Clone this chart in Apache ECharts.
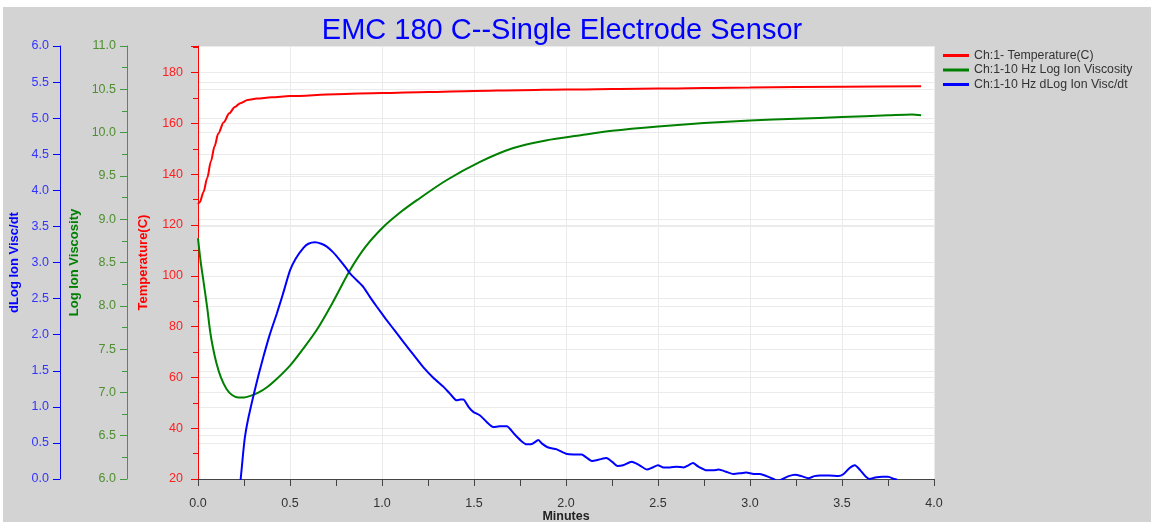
<!DOCTYPE html>
<html>
<head>
<meta charset="utf-8">
<script src="https://cdn.jsdelivr.net/npm/echarts@6/dist/echarts.min.js"></script>
<style>
html,body{margin:0;padding:0;background:#fff;}
#bg{position:absolute;left:3px;top:7px;width:1148px;height:515px;background:#d3d3d3;}
#chart{position:absolute;left:0;top:0;width:1151px;height:522px;}
</style>
</head>
<body>
<div id="bg"></div>
<div id="chart"></div>
<script>
// ---- data ----
const titleText = 'EMC 180 C--Single Electrode Sensor';
const seriesNames = ['Ch:1- Temperature(C)', 'Ch:1-10 Hz Log Ion Viscosity', 'Ch:1-10 Hz dLog Ion Visc/dt'];

const tempX = [0.00,0.01,0.03,0.05,0.07,0.09,0.11,0.14,0.17,0.20,0.23,0.27,0.32,0.40,0.50,0.75,1.00,1.25,1.50,1.75,2.00,2.50,3.00,3.50,3.93];
const tempY = [128.3,129.0,133.0,138.5,145.0,151.0,156.0,160.5,164.0,166.5,168.0,169.2,169.8,170.3,170.8,171.5,172.0,172.4,172.8,173.1,173.4,173.8,174.2,174.5,174.7];

const viscX = [0.00,0.015,0.03,0.05,0.065,0.08,0.10,0.125,0.155,0.185,0.22,0.25,0.285,0.33,0.375,0.42,0.50,0.57,0.645,0.73,0.826,0.91,1.007,1.10,1.19,1.35,1.53,1.71,1.89,2.08,2.25,2.50,2.75,3.00,3.25,3.50,3.75,3.88,3.93];
const viscY = [8.78,8.50,8.28,7.98,7.72,7.53,7.34,7.17,7.04,6.97,6.94,6.94,6.96,7.00,7.06,7.14,7.31,7.50,7.72,8.03,8.41,8.68,8.91,9.08,9.22,9.45,9.66,9.82,9.91,9.97,10.02,10.07,10.11,10.14,10.16,10.18,10.20,10.21,10.20];

const dviscX = [0.228,0.232,0.245,0.255,0.27,0.30,0.33,0.355,0.39,0.428,0.46,0.50,0.53,0.572,0.60,0.636,0.67,0.70,0.735,0.772,0.80,0.826,0.86,0.899,0.935,0.971,1.02,1.08,1.15,1.224,1.28,1.333,1.37,1.406,1.425,1.442,1.47,1.496,1.533,1.565,1.605,1.64,1.678,1.72,1.76,1.786,1.81,1.85,1.87,1.90,1.95,2.00,2.04,2.085,2.11,2.14,2.18,2.22,2.25,2.28,2.31,2.357,2.40,2.44,2.47,2.50,2.53,2.565,2.60,2.64,2.665,2.69,2.72,2.765,2.80,2.83,2.87,2.91,2.95,2.98,3.02,3.054,3.09,3.127,3.15,3.17,3.21,3.245,3.28,3.317,3.35,3.38,3.43,3.48,3.507,3.54,3.57,3.60,3.63,3.65,3.68,3.72,3.75,3.785,3.80];
const dviscY = [-0.05,0.0,0.35,0.58,0.80,1.14,1.45,1.69,2.00,2.29,2.55,2.89,3.05,3.20,3.26,3.28,3.26,3.22,3.14,3.03,2.94,2.85,2.76,2.66,2.52,2.39,2.22,2.02,1.79,1.55,1.40,1.28,1.18,1.09,1.10,1.10,1.00,0.93,0.88,0.80,0.72,0.73,0.73,0.62,0.52,0.48,0.48,0.54,0.49,0.44,0.41,0.35,0.34,0.34,0.30,0.25,0.27,0.29,0.24,0.18,0.19,0.24,0.19,0.13,0.16,0.19,0.16,0.16,0.17,0.16,0.19,0.22,0.17,0.12,0.12,0.13,0.10,0.07,0.08,0.09,0.07,0.07,0.04,0.0,-0.03,-0.01,0.04,0.06,0.04,0.01,0.04,0.05,0.05,0.04,0.065,0.15,0.19,0.12,0.03,0.0,0.02,0.03,0.03,0.0,-0.01];

const xTickMin = 0, xTickMax = 4, xTickStep = 0.5;
const tempMin = 20, tempMax = 190.5, tempStep = 20;
const viscMin = 6, viscMax = 11, viscStep = 0.5;
const dviscMin = 0, dviscMax = 6, dviscStep = 0.5;

// ---- build ----
const zip = (xs, ys) => xs.map((x, i) => [x, ys[i]]);
const FONT = 'Liberation Sans, Arial, sans-serif';
const GRIDC = '#ebebeb';

function yAxisDef(o) {
  return {
    type: 'value', position: 'left', offset: o.offset,
    min: o.min, max: o.max, interval: o.step,
    name: o.name, nameLocation: 'middle', nameGap: o.nameGap, nameRotate: 90,
    nameTextStyle: { color: o.nameColor, fontWeight: 'bold', fontSize: 13, fontFamily: FONT },
    axisLine: { show: true, lineStyle: { color: o.lineColor, width: 1 } },
    axisTick: { show: true, length: 7, lineStyle: { color: o.lineColor } },
    minorTick: { show: o.minor, splitNumber: 2, length: 5, lineStyle: { color: o.lineColor } },
    axisLabel: { color: o.labelColor, fontSize: 12.5, fontFamily: FONT, margin: 11, showMaxLabel: o.showMax,
      formatter: v => o.fmt(v) },
    splitLine: { show: true, lineStyle: { color: GRIDC, width: 1 } },
    minorSplitLine: { show: false }
  };
}

const chart = echarts.init(document.getElementById('chart'));
chart.setOption({
  animation: false,
  backgroundColor: 'transparent',
  title: {
    text: titleText, left: 557, top: 11, textAlign: 'center',
    textStyle: { color: '#0000ff', fontSize: 29, fontWeight: 'normal', fontFamily: FONT }
  },
  legend: {
    orient: 'vertical', left: 938, top: 44, itemGap: 1.5,
    icon: 'rect', itemWidth: 26, itemHeight: 3, itemTextGap: 5,
    textStyle: { color: '#333', fontSize: 12.3, fontFamily: FONT, lineHeight: 13 },
    data: seriesNames
  },
  grid: { left: 198, right: 217, top: 46, bottom: 43, show: true, backgroundColor: '#ffffff', borderWidth: 0,
    outerBoundsMode: 'none', containLabel: false },
  xAxis: {
    type: 'value', min: xTickMin, max: xTickMax, interval: xTickStep, offset: 6,
    name: 'Minutes', nameLocation: 'middle', nameGap: 25, nameMoveOverlap: false,
    nameTextStyle: { color: '#222', fontWeight: 'bold', fontSize: 12.5, fontFamily: FONT },
    axisLine: { show: true, lineStyle: { color: '#444', width: 1 } },
    axisTick: { show: true, length: 7, lineStyle: { color: '#444' } },
    minorTick: { show: true, splitNumber: 2, length: 7, lineStyle: { color: '#444' } },
    axisLabel: { color: '#333', fontSize: 12.5, fontFamily: FONT, margin: 12, formatter: v => v.toFixed(1) },
    splitLine: { show: true, lineStyle: { color: GRIDC, width: 1 } }
  },
  yAxis: [
    yAxisDef({ offset: 4, min: tempMin, max: tempMax, step: tempStep, name: 'Temperature(C)', nameGap: 44,
      nameColor: '#ff0000', lineColor: '#ff0000', labelColor: '#ff2020', minor: true, showMax: false,
      fmt: v => (v % 20 === 0 ? String(v) : '') }),
    yAxisDef({ offset: 71, min: viscMin, max: viscMax, step: viscStep, name: 'Log Ion Viscosity', nameGap: 42,
      nameColor: '#008000', lineColor: '#3f993f', labelColor: '#4f8f2f', minor: true, showMax: true,
      fmt: v => v.toFixed(1) }),
    yAxisDef({ offset: 138, min: dviscMin, max: dviscMax, step: dviscStep, name: 'dLog Ion Visc/dt', nameGap: 35,
      nameColor: '#0000ff', lineColor: '#0000ff', labelColor: '#3333ff', minor: false, showMax: true,
      fmt: v => v.toFixed(1) })
  ],
  series: [
    { name: seriesNames[0], type: 'line', yAxisIndex: 0, data: zip(tempX, tempY), showSymbol: false,
      smooth: 0.3, smoothMonotone: 'x', clip: true, color: '#ff0000', lineStyle: { width: 2, color: '#ff0000' } },
    { name: seriesNames[1], type: 'line', yAxisIndex: 1, data: zip(viscX, viscY), showSymbol: false,
      smooth: 0.3, clip: true, color: '#008000', lineStyle: { width: 2, color: '#008000' } },
    { name: seriesNames[2], type: 'line', yAxisIndex: 2, data: zip(dviscX, dviscY), showSymbol: false,
      smooth: 0.2, clip: true, color: '#0000ff', lineStyle: { width: 2, color: '#0000ff' } }
  ]
});
</script>
</body>
</html>
